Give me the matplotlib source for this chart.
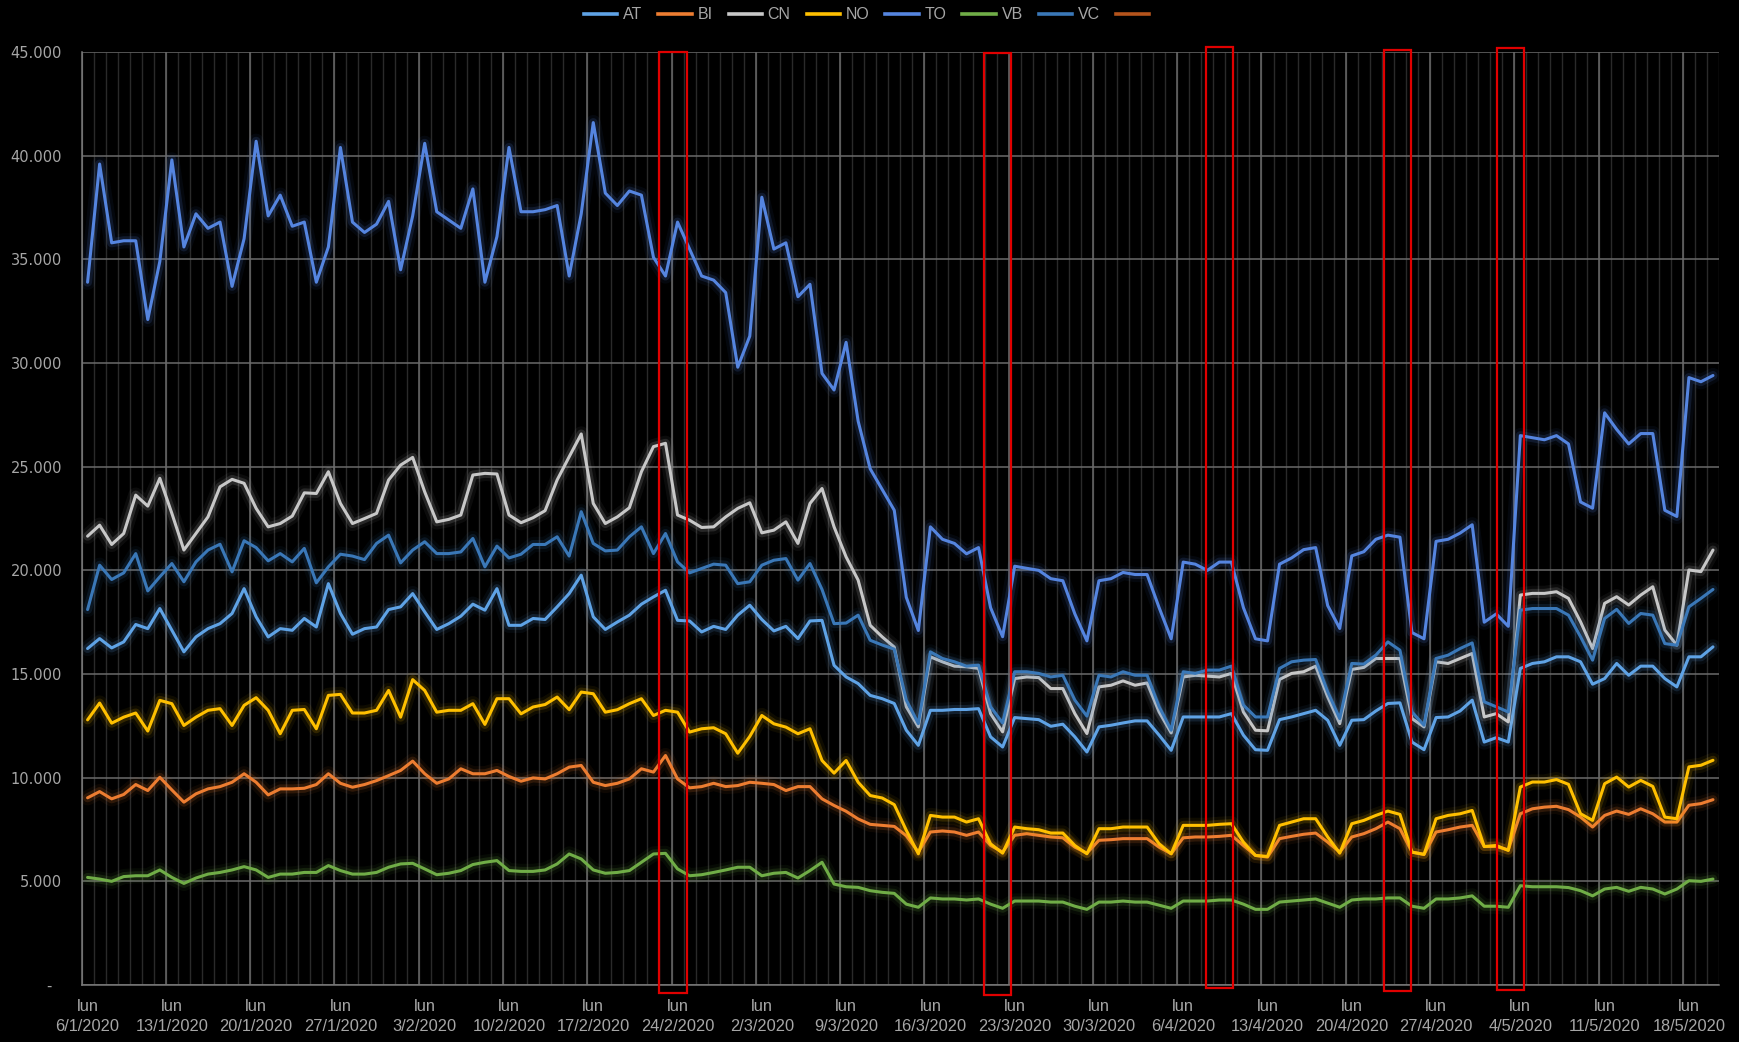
"""
Daily traffic by province, Piedmont, January - May 2020.
Dark Excel-style line chart with glowing series and highlighted days.
"""
import numpy as np
import pandas as pd
import matplotlib
matplotlib.use("Agg")
import matplotlib.pyplot as plt
import matplotlib.patheffects as pe
from matplotlib.lines import Line2D
from matplotlib.patches import Rectangle
from matplotlib.ticker import FuncFormatter

DAYS = pd.date_range("2020-01-06", "2020-05-20", freq="D")

# one row per week, Monday first
AT = [
    16230, 16710, 16260, 16550, 17390, 17190, 18160,
    17110, 16070, 16790, 17190, 17430, 17920, 19120,
    17760, 16790, 17190, 17110, 17680, 17270, 19360,
    17920, 16920, 17190, 17270, 18110, 18240, 18880,
    18000, 17150, 17430, 17790, 18370, 18080, 19120,
    17350, 17350, 17680, 17630, 18240, 18880, 19770,
    17760, 17150, 17510, 17840, 18370, 18720, 19040,
    17590, 17560, 17030, 17300, 17150, 17840, 18320,
    17630, 17080, 17300, 16710, 17560, 17590, 15420,
    14860, 14540, 13970, 13810, 13580, 12290, 11560,
    13250, 13250, 13290, 13290, 13330, 11970, 11480,
    12900, 12850, 12800, 12480, 12580, 11970, 11240,
    12450, 12530, 12640, 12740, 12740, 12050, 11320,
    12930, 12930, 12930, 12930, 13090, 12050, 11350,
    11320, 12800, 12930, 13090, 13250, 12770, 11560,
    12770, 12800, 13220, 13580, 13610, 11720, 11350,
    12900, 12930, 13220, 13740, 11720, 11930, 11720,
    15270, 15510, 15590, 15830, 15830, 15590, 14510,
    14780, 15510, 14940, 15380, 15380, 14780, 14380,
    15830, 15830, 16310,
]
BI = [
    9030, 9330, 8980, 9190, 9670, 9380, 10020,
    9410, 8820, 9220, 9460, 9570, 9780, 10190,
    9780, 9170, 9460, 9460, 9490, 9670, 10190,
    9730, 9540, 9670, 9860, 10100, 10350, 10800,
    10190, 9730, 9940, 10430, 10190, 10190, 10350,
    10060, 9830, 9990, 9940, 10190, 10510, 10590,
    9780, 9620, 9730, 9940, 10430, 10270, 11070,
    9940, 9510, 9570, 9730, 9570, 9620, 9780,
    9730, 9670, 9380, 9570, 9570, 8980, 8660,
    8380, 8010, 7750, 7700, 7650, 7200, 6410,
    7380, 7430, 7380, 7220, 7380, 6730, 6410,
    7220, 7300, 7220, 7140, 7100, 6650, 6360,
    6980, 7010, 7060, 7060, 7060, 6650, 6330,
    7100, 7140, 7140, 7170, 7220, 6730, 6250,
    6170, 7060, 7170, 7270, 7330, 6890, 6410,
    7140, 7300, 7540, 7860, 7540, 6410, 6300,
    7380, 7490, 7620, 7700, 6680, 6680, 6520,
    8260, 8500, 8580, 8620, 8460, 8100, 7620,
    8180, 8390, 8230, 8500, 8260, 7860, 7860,
    8670, 8750, 8940,
]
CN = [
    21650, 22180, 21250, 21780, 23630, 23100, 24440,
    22750, 20980, 21780, 22580, 24030, 24390, 24200,
    22990, 22100, 22260, 22620, 23740, 23710, 24760,
    23230, 22260, 22500, 22750, 24360, 25080, 25450,
    23790, 22340, 22460, 22670, 24600, 24680, 24650,
    22670, 22300, 22540, 22880, 24360, 25480, 26580,
    23230, 22260, 22580, 23020, 24760, 25970, 26130,
    22670, 22420, 22070, 22100, 22580, 22990, 23260,
    21810, 21940, 22340, 21300, 23230, 23950, 22100,
    20650, 19530, 17350, 16790, 16300, 13420, 12450,
    15830, 15590, 15380, 15350, 15270, 13090, 12210,
    14780, 14860, 14830, 14300, 14300, 13090, 12130,
    14380, 14460, 14670, 14460, 14570, 13170, 12160,
    14860, 14940, 14900, 14860, 15030, 13170, 12290,
    12260, 14740, 15030, 15110, 15380, 13900, 12610,
    15220, 15320, 15750, 15750, 15750, 12850, 12450,
    15590, 15510, 15750, 15990, 12930, 13090, 12690,
    18810, 18890, 18890, 18970, 18650, 17520, 16230,
    18410, 18730, 18330, 18810, 19210, 17120, 16390,
    20020, 19940, 20980,
]
NO = [
    12790, 13600, 12630, 12920, 13120, 12250, 13730,
    13570, 12520, 12920, 13250, 13330, 12520, 13490,
    13860, 13250, 12120, 13250, 13290, 12360, 13970,
    14020, 13120, 13120, 13250, 14210, 12920, 14730,
    14210, 13160, 13250, 13250, 13570, 12570, 13810,
    13810, 13080, 13410, 13530, 13890, 13280, 14130,
    14050, 13160, 13280, 13570, 13810, 13000, 13250,
    13160, 12200, 12360, 12410, 12120, 11180, 11990,
    13000, 12600, 12440, 12120, 12360, 10830, 10220,
    10830, 9780, 9140, 9020, 8700, 7460, 6330,
    8180, 8100, 8100, 7860, 8020, 6810, 6360,
    7620, 7540, 7490, 7330, 7330, 6730, 6330,
    7540, 7540, 7620, 7620, 7620, 6810, 6330,
    7700, 7700, 7700, 7750, 7780, 6890, 6250,
    6200, 7700, 7860, 8020, 8020, 7140, 6360,
    7780, 7940, 8180, 8390, 8230, 6410, 6300,
    8020, 8180, 8260, 8420, 6680, 6730, 6490,
    9550, 9790, 9790, 9910, 9680, 8260, 7940,
    9710, 10030, 9550, 9870, 9580, 8100, 8020,
    10520, 10600, 10840,
]
TO = [
    33900, 39600, 35800, 35900, 35900, 32100, 34900,
    39800, 35600, 37200, 36500, 36800, 33700, 36000,
    40700, 37100, 38100, 36600, 36800, 33900, 35600,
    40400, 36800, 36300, 36700, 37800, 34500, 37100,
    40600, 37300, 36900, 36500, 38400, 33900, 36100,
    40400, 37300, 37300, 37400, 37600, 34200, 37200,
    41600, 38200, 37600, 38300, 38100, 35100, 34200,
    36800, 35500, 34200, 34000, 33400, 29800, 31300,
    38000, 35500, 35800, 33200, 33800, 29500, 28700,
    31000, 27200, 24900, 23900, 22900, 18700, 17100,
    22100, 21500, 21300, 20800, 21100, 18200, 16800,
    20200, 20100, 20000, 19600, 19500, 17900, 16600,
    19500, 19600, 19900, 19800, 19800, 18200, 16700,
    20400, 20300, 20000, 20400, 20400, 18200, 16700,
    16600, 20300, 20600, 21000, 21100, 18300, 17200,
    20700, 20900, 21500, 21700, 21600, 17000, 16700,
    21400, 21500, 21800, 22200, 17500, 17900, 17300,
    26500, 26400, 26300, 26500, 26100, 23300, 23000,
    27600, 26800, 26100, 26600, 26600, 22900, 22600,
    29300, 29100, 29400,
]
VB = [
    5190, 5110, 5000, 5230, 5270, 5270, 5550,
    5190, 4900, 5160, 5350, 5430, 5550, 5710,
    5550, 5190, 5350, 5350, 5430, 5430, 5760,
    5520, 5350, 5350, 5430, 5680, 5840, 5870,
    5600, 5320, 5390, 5520, 5810, 5920, 6000,
    5520, 5480, 5480, 5550, 5840, 6320, 6080,
    5550, 5390, 5430, 5520, 5920, 6320, 6350,
    5600, 5270, 5320, 5430, 5550, 5680, 5680,
    5270, 5390, 5430, 5160, 5520, 5920, 4870,
    4740, 4710, 4550, 4470, 4420, 3900, 3750,
    4200, 4150, 4150, 4100, 4150, 3900, 3700,
    4050, 4050, 4050, 4000, 4000, 3800, 3650,
    4000, 4000, 4050, 4000, 4000, 3850, 3700,
    4050, 4050, 4050, 4100, 4100, 3900, 3650,
    3650, 4000, 4050, 4100, 4150, 3950, 3750,
    4100, 4150, 4150, 4200, 4200, 3800, 3700,
    4150, 4150, 4200, 4300, 3800, 3800, 3750,
    4790, 4740, 4740, 4740, 4700, 4550, 4300,
    4630, 4710, 4520, 4710, 4630, 4390, 4630,
    5030, 5000, 5110,
]
VC = [
    18110, 20250, 19560, 19880, 20810, 19010, 19690,
    20330, 19450, 20410, 20980, 21260, 19930, 21430,
    21100, 20460, 20810, 20410, 21060, 19400, 20170,
    20780, 20690, 20520, 21300, 21700, 20360, 20980,
    21380, 20810, 20810, 20890, 21540, 20170, 21170,
    20600, 20780, 21250, 21250, 21620, 20690, 22830,
    21300, 20940, 20980, 21620, 22100, 20810, 21780,
    20410, 19880, 20090, 20300, 20250, 19360, 19450,
    20250, 20490, 20570, 19530, 20330, 19080, 17430,
    17460, 17840, 16630, 16400, 16200, 13740, 12610,
    16070, 15750, 15590, 15380, 15430, 13420, 12640,
    15110, 15110, 15030, 14860, 14940, 13740, 12970,
    14940, 14860, 15110, 14940, 14940, 13420, 12290,
    15110, 15030, 15190, 15190, 15380, 13500, 12930,
    12930, 15270, 15590, 15670, 15700, 14140, 12850,
    15510, 15480, 15910, 16550, 16150, 13170, 12530,
    15750, 15910, 16230, 16500, 13660, 13420, 13170,
    18080, 18160, 18160, 18160, 17840, 16800, 15670,
    17680, 18120, 17440, 17920, 17840, 16470, 16390,
    18240, 18650, 19080,
]
EMPTY = []  # eighth series in the source workbook, no values

SERIES = [
    ("AT", AT, "#5fa3e6"),
    ("BI", BI, "#ed7d31"),
    ("CN", CN, "#c8c8c8"),
    ("NO", NO, "#ffc000"),
    ("TO", TO, "#5585e0"),
    ("VB", VB, "#70ad47"),
    ("VC", VC, "#3a78b8"),
    ("", EMPTY, "#b5541c"),
]

# highlighted days: (first day, last day, low, high) in chart units
HIGHLIGHTS = [
    (47.97, 50.30, -400, 45015),
    (74.93, 77.22, -500, 44970),
    (93.43, 95.66, -130, 45260),
    (108.14, 110.45, -290, 45100),
    (117.57, 119.79, -220, 45200),
]

TEXT_GREY = "#a6a6a6"
LABEL_FONT = ["Liberation Sans", "DejaVu Sans"]


def thousands(v, _pos):
    if v == 0:
        return "-  "
    return f"{v:,.0f}".replace(",", ".")


def main():
    fig = plt.figure(figsize=(17.39, 10.42), dpi=100, facecolor="black")
    ax = fig.add_axes([0.0469, 0.0547, 0.9416, 0.8953], facecolor="black")

    n = len(DAYS)
    x = np.arange(n) + 0.5
    ax.set_xlim(0, n)
    ax.set_ylim(0, 45000)

    # day / week gridlines
    ax.vlines(np.arange(0, n + 1), 0, 45000, colors="#2a2a2a", linewidth=1.0, zorder=0)
    ax.vlines(np.arange(0, n + 1, 7), 0, 45000, colors="#6a6a6a", linewidth=1.1, zorder=0)
    ax.set_yticks(np.arange(0, 45001, 5000))
    ax.yaxis.grid(True, color="#6a6a6a", linewidth=1.1, zorder=0)
    ax.set_axisbelow(True)

    for side in ("top", "right"):
        ax.spines[side].set_visible(False)
    for side in ("left", "bottom"):
        ax.spines[side].set_color("#7a7a7a")
        ax.spines[side].set_linewidth(1.1)

    handles = []
    for name, values, color in SERIES:
        if len(values):
            ax.plot(x[:len(values)], values, color=color, linewidth=2.2,
                    solid_joinstyle="round", solid_capstyle="round", zorder=3,
                    path_effects=[
                        pe.Stroke(linewidth=11, foreground=color, alpha=0.06),
                        pe.Stroke(linewidth=6.5, foreground=color, alpha=0.15),
                        pe.Normal(),
                    ])
        handles.append(Line2D([], [], color=color, linewidth=2.6, label=name))

    for x0, x1, y0, y1 in HIGHLIGHTS:
        ax.add_patch(Rectangle((x0, y0), x1 - x0, y1 - y0, fill=False,
                               edgecolor="#e00000", linewidth=1.6,
                               clip_on=False, zorder=5))

    mondays = np.arange(0, n, 7)
    ax.set_xticks(mondays + 0.5)
    ax.set_xticklabels([f"lun\n{d.day}/{d.month}/{d.year}" for d in DAYS[mondays]],
                       family=LABEL_FONT, fontsize=11.8, color=TEXT_GREY, linespacing=1.45)
    ax.yaxis.set_major_formatter(FuncFormatter(thousands))
    ax.tick_params(axis="x", length=0, pad=10)
    ax.tick_params(axis="y", length=0, pad=14, labelsize=10.5, labelcolor=TEXT_GREY)

    fig.legend(handles=handles, labels=[h.get_label() for h in handles],
               loc="upper center", bbox_to_anchor=(0.5, 1.002), ncol=8,
               frameon=False, handlelength=2.1, handletextpad=0.35,
               columnspacing=1.0, labelcolor=TEXT_GREY, borderaxespad=0.2,
               prop={"family": LABEL_FONT, "size": 11.5})

    fig.savefig("out.png", dpi=100, facecolor="black")


if __name__ == "__main__":
    main()
